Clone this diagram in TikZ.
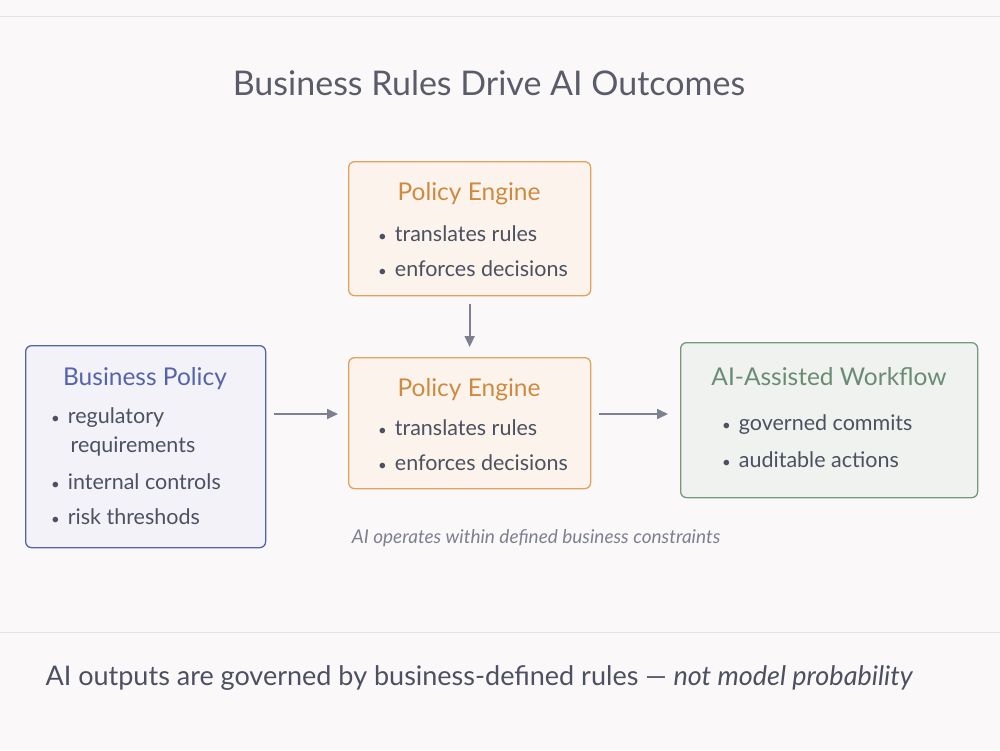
\documentclass[tikz,border=0pt]{standalone}
\usepackage{fontspec}
\setmainfont{Lato}
\usetikzlibrary{arrows.meta,positioning,calc}
\definecolor{pagebg}{HTML}{FBF8FA}
\definecolor{inkgray}{HTML}{5A5D68}
\definecolor{bodyink}{HTML}{4C5060}
\definecolor{muted}{HTML}{7C8090}
\definecolor{rulegray}{HTML}{E6E3E8}
\definecolor{polblue}{HTML}{5564A8}
\definecolor{polfill}{HTML}{F2F2F8}
\definecolor{engorange}{HTML}{E2A25E}
\definecolor{engtext}{HTML}{D08A40}
\definecolor{engfill}{HTML}{FCF4EC}
\definecolor{wfgreen}{HTML}{76987E}
\definecolor{wftext}{HTML}{6A8C72}
\definecolor{wffill}{HTML}{EFF2EE}

\tikzset{
  card/.style={rounded corners=6pt,line width=1.3pt,anchor=north west},
  cardtitle/.style={font=\fontsize{24.5}{28}\selectfont,anchor=base},
  bullets/.style={font=\fontsize{21.5}{35}\selectfont,text=bodyink,align=left,anchor=base west,inner sep=0pt},
  flow/.style={-{Triangle[length=11pt,width=10pt]},muted,line width=1.8pt}
}
\newcommand{\bul}{{\fontsize{15}{15}\selectfont\textbullet}\hspace{8pt}}

\begin{document}
\begin{tikzpicture}[x=1pt,y=-1pt]
\fill[pagebg] (0,0) rectangle (1000,750);
\useasboundingbox (0,0) rectangle (1000,750);
\draw[rulegray,line width=1pt] (0,16)--(1000,16);
\draw[rulegray,line width=1pt] (0,632)--(1000,632);
\node[font=\fontsize{34}{38}\selectfont,text=inkgray,anchor=base] (title) at (489,95) {Business Rules Drive AI Outcomes};

% boxes
\node[card,draw=polblue,fill=polfill,minimum width=240pt,minimum height=202pt] (policy) at (25,345) {};
\node[card,draw=engorange,fill=engfill,minimum width=242pt,minimum height=134pt] (engtop) at (348,161) {};
\node[card,draw=engorange,fill=engfill,minimum width=242pt,minimum height=131pt] (engine) at (348,357) {};
\node[card,draw=wfgreen,fill=wffill,minimum width=297pt,minimum height=155pt] (workflow) at (680,342) {};

% texts (bullet lists sit on the baseline of their last line)
\node[cardtitle,text=polblue] (poltitle) at (145,385) {Business Policy};
\node[bullets] (pollist) at (51,524) {\bul regulatory\\[-6pt]\hspace{19.5pt}requirements\\[2pt]\bul internal controls\\\bul risk threshods};
\node[cardtitle,text=engtext] (engtoptitle) at (469,200) {Policy Engine};
\node[bullets] (engtoplist) at (378,276) {\bul translates rules\\\bul enforces decisions};
\node[cardtitle,text=engtext] (enginetitle) at (469,396) {Policy Engine};
\node[bullets] (enginelist) at (378,470) {\bul translates rules\\\bul enforces decisions};
\node[cardtitle,text=wftext] (wftitle) at (829,385) {AI-Assisted Workflow};
\node[bullets] (wflist) at (722,467) {\bul governed commits\\[2pt]\bul auditable actions};

\node[font=\fontsize{19}{22}\selectfont\itshape,text=muted,anchor=base] (note) at (536,543) {AI operates within defined business constraints};
\node[font=\fontsize{27}{30}\selectfont,text=bodyink,anchor=base west] (footer) at (42,685) {AI outputs are governed by business-defined rules --- \textit{not model probability}};

% connectors
\draw[flow] ([yshift=-8pt]engtop.south) -- ([yshift=10pt]engine.north);
\draw[flow] ([xshift=8pt]policy.east |- 0,414) -- ([xshift=-10pt]engine.west |- 0,414);
\draw[flow] ([xshift=8pt]engine.east |- 0,414) -- ([xshift=-12pt]workflow.west |- 0,414);
\end{tikzpicture}
\end{document}
